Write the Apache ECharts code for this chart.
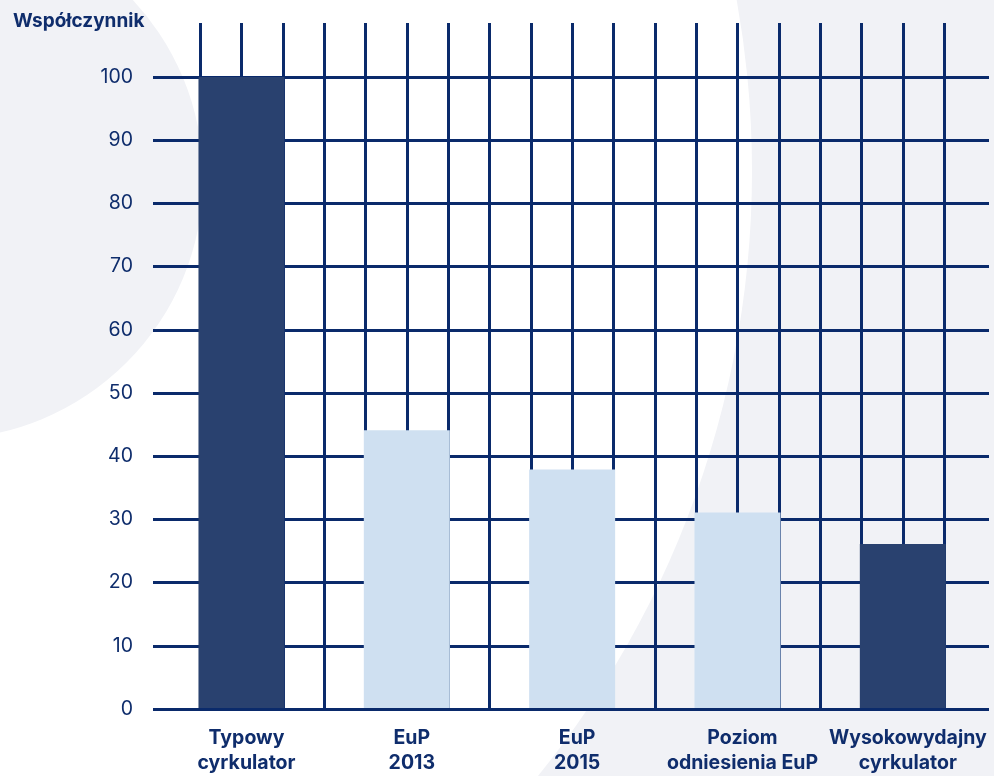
<!DOCTYPE html>
<html>
<head>
<meta charset="utf-8">
<script src="https://cdn.jsdelivr.net/npm/echarts@6/dist/echarts.min.js"></script>
<style>
html,body{margin:0;padding:0;background:#ffffff;}
#c{width:994px;height:776px;}
</style>
</head>
<body>
<div id="c"></div>
<script>
// ---- data ----
const categories = ["Typowy\ncyrkulator", "EuP\n2013", "EuP\n2015", "Poziom\nodniesienia EuP", "Wysokowydajny\ncyrkulator"];
const values = [100, 44, 37.8, 31, 26];
const barKinds = ["dark", "light", "light", "light", "dark"];
const yTitle = "Współczynnik";
const yMin = 0, yMax = 100, yStep = 10;

// ---- styles ----
const LINE = '#0a2a6b';
const TEXT = '#0f2d6c';
const DARK = '#29416f';
const LIGHT = '#cfe0f1';
const FONT = 'Inter, "Noto Sans", sans-serif';

const chart = echarts.init(document.getElementById('c'), null, {renderer: 'canvas'});

const option = {
  animation: false,
  backgroundColor: '#f1f2f6',
  graphic: [
    { type: 'circle', z: -100, silent: true, shape: { cx: -210, cy: 171, r: 962 }, style: { fill: '#ffffff' } },
    { type: 'circle', z: -99, silent: true, shape: { cx: -58, cy: 178, r: 261 }, style: { fill: '#f1f2f6' } }
  ],
  title: {
    text: yTitle,
    left: 8, top: 7,
    textStyle: { fontFamily: FONT, fontWeight: 'bold', fontSize: 19, color: TEXT }
  },
  grid: [
    { left: 153, right: 5, top: 77, bottom: 67 },
    { left: 158.8, right: 8.5, top: 23, bottom: 67 },
    { left: 158.8, right: 8.5, top: 77, bottom: 67 }
  ],
  xAxis: [
    { gridIndex: 0, type: 'value', show: false, min: 0, max: 1, splitLine: { show: false } },
    { gridIndex: 1, type: 'value', min: 0, max: 20, interval: 1,
      axisLine: { show: false }, axisTick: { show: false }, axisLabel: { show: false },
      splitLine: { show: true, showMinLine: false, showMaxLine: false, lineStyle: { color: LINE, width: 3 } } },
    { gridIndex: 2, type: 'category', data: categories,
      axisLine: { show: false }, axisTick: { show: false }, splitLine: { show: false },
      axisLabel: { interval: 0, hideOverlap: false, margin: 18, fontFamily: FONT, fontWeight: 'bold', fontSize: 19.5, lineHeight: 25,
        color: TEXT, align: 'center', padding: [0, 0, 0, 10] } }
  ],
  yAxis: [
    { gridIndex: 0, type: 'value', min: yMin, max: yMax, interval: yStep,
      axisLine: { show: false }, axisTick: { show: false },
      axisLabel: { margin: 20, fontFamily: FONT, fontSize: 19.5, color: TEXT },
      splitLine: { show: true, lineStyle: { color: LINE, width: 3 } } },
    { gridIndex: 1, type: 'value', show: false, min: 0, max: 1, splitLine: { show: false } },
    { gridIndex: 2, type: 'value', show: false, min: yMin, max: yMax, splitLine: { show: false } }
  ],
  series: [
    {
      type: 'bar', xAxisIndex: 2, yAxisIndex: 2, barWidth: 86, z: 5,
      data: values.map((v, i) => ({ value: v, itemStyle: { color: barKinds[i] === 'dark' ? DARK : LIGHT } }))
    }
  ]
};
chart.setOption(option);
</script>
</body>
</html>
